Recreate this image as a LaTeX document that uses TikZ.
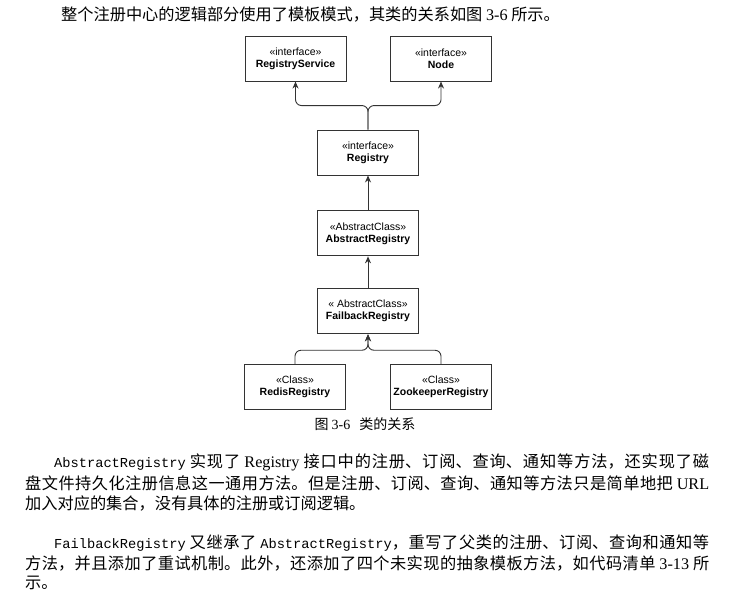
\documentclass[tikz,border=0pt]{standalone}
\usepackage{fontspec}
\setmainfont{Liberation Serif}
\setsansfont{Liberation Sans}
\setmonofont{Liberation Mono}
\newfontfamily\cjk{Noto Sans CJK SC}
\XeTeXlinebreaklocale "zh"
\XeTeXlinebreakskip=0pt plus 3pt
\usetikzlibrary{arrows.meta, positioning}

\newcommand{\code}[1]{{\ttfamily\fontsize{13.7}{16}\selectfont #1}}
\newcommand{\lat}[1]{{\rmfamily #1}}

\begin{document}
\begin{tikzpicture}[
    x=1pt, y=1pt,
    cls/.style={rectangle, draw=black!80, line width=0.9pt, minimum width=101pt, minimum height=45pt, inner sep=0pt, align=center, font=\sffamily\fontsize{10.5}{12}\selectfont},
    arrow/.style={-{Stealth[length=7pt, width=6pt]}, line width=0.9pt, draw=black!80, rounded corners=6pt},
    plain/.style={anchor=west, inner sep=0pt, font=\cjk\fontsize{16.2}{20}\selectfont},
    para/.style={anchor=west, inner sep=0pt, text width=684pt, align=justify, font=\cjk\fontsize{16.2}{20}\selectfont},
]
\useasboundingbox (0,0) rectangle (738,-608);

% Intro line
\node[plain] (intro) at (61,-15) {整个注册中心的逻辑部分使用了模板模式，其类的关系如图 \lat{3-6} 所示。};

% Interfaces
\node[cls] (registry) at (368,-152.5) {«interface»\\\textbf{Registry}};
\node[cls, above=48pt of registry, xshift=-72.5pt] (regsvc) {«interface»\\\textbf{RegistryService}};
\node[cls, above=48pt of registry, xshift=73pt] (nodeif) {«interface»\\\textbf{Node}};

% Abstract classes
\node[cls, below=35pt of registry] (abstract) {«AbstractClass»\\\textbf{AbstractRegistry}};
\node[cls, below=32pt of abstract] (failback) {« AbstractClass»\\\textbf{FailbackRegistry}};

% Concrete classes
\node[cls, below=30pt of failback, xshift=-73pt] (redis) {«Class»\\\textbf{RedisRegistry}};
\node[cls, below=30pt of failback, xshift=73pt] (zookeeper) {«Class»\\\textbf{ZookeeperRegistry}};

% Caption
\node[plain, anchor=center, font=\cjk\fontsize{14}{16}\selectfont] (caption) at (365,-424) {图 \lat{3-6}\hspace{9pt}类的关系};

% Arrows
\draw[arrow] (registry.north) -- ++(0,24) -| (regsvc.south);
\draw[arrow] (registry.north) -- ++(0,24) -| (nodeif.south);
\draw[arrow] (abstract) -- (registry);
\draw[arrow] (failback) -- (abstract);
\draw[arrow] (redis.north) -- ++(0,14) -| (failback.south);
\draw[arrow] (zookeeper.north) -- ++(0,14) -| (failback.south);

% Body text
\node[para, text width=655pt] (p1a) at (54,-462) {\noindent\parfillskip=0pt \code{AbstractRegistry} 实现了 \lat{Registry} 接口中的注册、订阅、查询、通知等方法，还实现了磁\par};
\node[para] (p1b) at (25,-483) {\noindent\parfillskip=0pt 盘文件持久化注册信息这一通用方法。但是注册、订阅、查询、通知等方法只是简单地把 \lat{URL}\par};
\node[para] (p1c) at (25,-503) {\noindent 加入对应的集合，没有具体的注册或订阅逻辑。\par};
\node[para, text width=655pt] (p2a) at (54,-543) {\noindent\parfillskip=0pt \code{FailbackRegistry} 又继承了 \code{AbstractRegistry}，重写了父类的注册、订阅、查询和通知等\par};
\node[para] (p2b) at (25,-563) {\noindent\parfillskip=0pt 方法，并且添加了重试机制。此外，还添加了四个未实现的抽象模板方法，如代码清单 \lat{3-13} 所\par};
\node[para] (p2c) at (25,-583) {\noindent 示。\par};

\end{tikzpicture}
\end{document}
